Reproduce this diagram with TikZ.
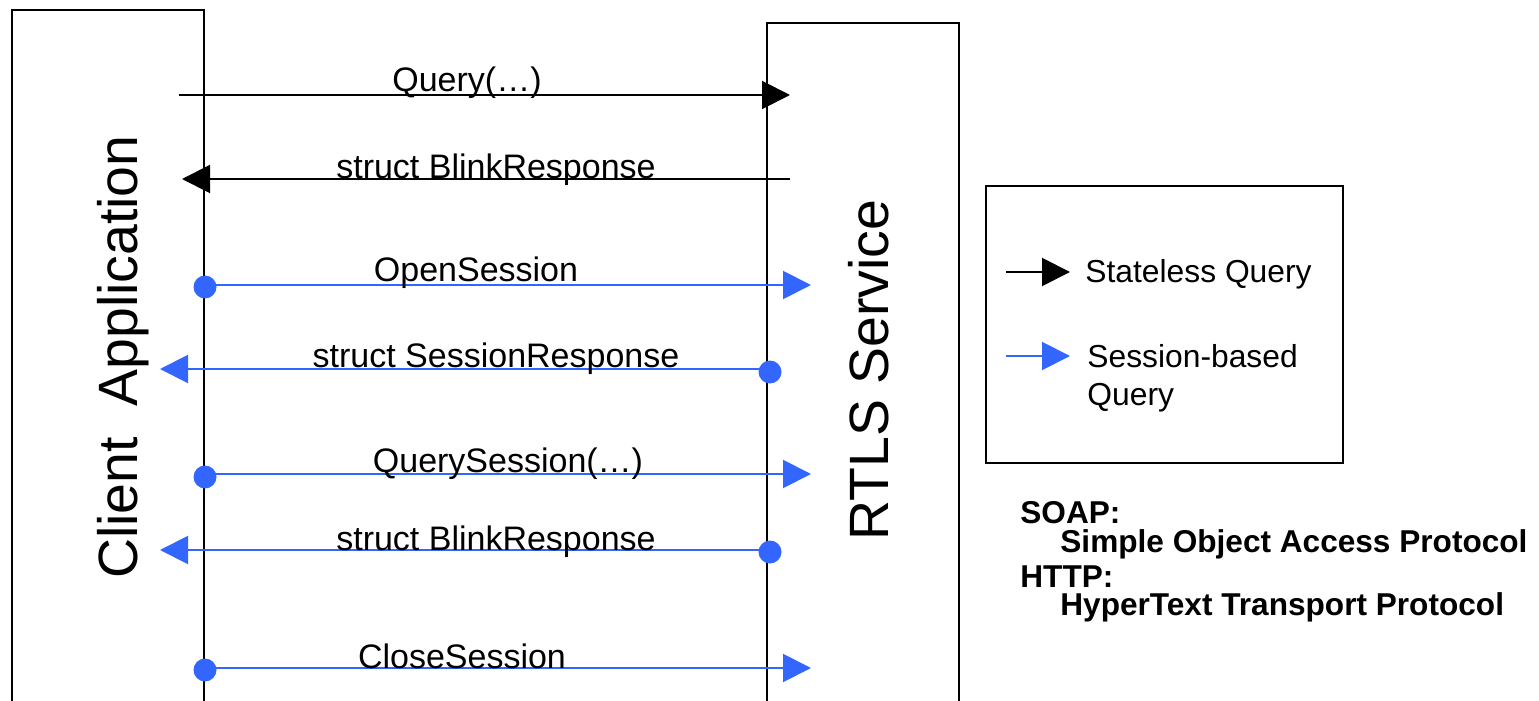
\documentclass[tikz,border=0pt]{standalone}
\usepackage{fontspec}
\setmainfont{Liberation Sans}
\usetikzlibrary{arrows.meta}
\definecolor{sblue}{HTML}{3366FF}
\tikzset{
  box/.style={line width=1pt},
  msg/.style={line width=1pt,-{Triangle[length=14pt,width=14pt]}},
  smsg/.style={msg,draw=sblue,fill=sblue},
  sdot/.style={circle,fill=sblue,inner sep=0pt,minimum size=11.5pt},
  lbl/.style={anchor=base,inner sep=0pt,font=\fontsize{17}{20}\selectfont},
  big/.style={anchor=base,rotate=90,inner sep=0pt,font=\fontsize{27.7}{32}\selectfont},
  leg/.style={anchor=base west,inner sep=0pt,font=\fontsize{15.9}{19}\selectfont},
  abbr/.style={anchor=base west,inner sep=0pt,font=\bfseries\fontsize{15.8}{19}\selectfont}
}
\begin{document}
\begin{tikzpicture}[x=0.5pt,y=-0.5pt]
\useasboundingbox (0,0) rectangle (1539,701);
% lifeline boxes
\draw[box] (12,720) -- (12,10) -- (204,10) -- (204,720);
\draw[box] (767,720) -- (767,23) -- (959,23) -- (959,720);
\node[big] (client) at (137,357) {Client\ \ Application};
\node[big] (rtls) at (888,370) {RTLS Service};

% stateless query
\coordinate (q1s) at (179,95);
\coordinate (q1e) at (790,95);
\draw[msg] (q1s) -- (q1e);
\node[lbl] (l1) at (467,92) {Query(…)};

\coordinate (r1s) at (790,179);
\coordinate (r1e) at (182,179);
\draw[msg] (r1s) -- (r1e);
\node[lbl] (l2) at (496,179) {struct BlinkResponse};

% session-based
\coordinate (o1e) at (811,285);
\draw[smsg] (205,285) coordinate (o1s) -- (o1e);
\node[sdot] (d1) at (205,287) {};
\node[lbl] (l3) at (476,282) {OpenSession};

\coordinate (s1e) at (160,369);
\draw[smsg] (770,369) coordinate (s1s) -- (s1e);
\node[sdot] (d2) at (770,372) {};
\node[lbl] (l4) at (496,367) {struct SessionResponse};

\coordinate (qs1e) at (811,474);
\draw[smsg] (205,474) coordinate (qs1s) -- (qs1e);
\node[sdot] (d3) at (205,477) {};
\node[lbl] (l5) at (508,472) {QuerySession(…)};

\coordinate (b2e) at (160,550);
\draw[smsg] (770,550) coordinate (b2s) -- (b2e);
\node[sdot] (d4) at (770,552) {};
\node[lbl] (l6) at (496,550) {struct BlinkResponse};

\coordinate (c1e) at (811,668);
\draw[smsg] (205,668) coordinate (c1s) -- (c1e);
\node[sdot] (d5) at (205,670) {};
\node[lbl] (l7) at (462,668) {CloseSession};

% legend
\draw[box] (986,186) rectangle (1343,463);
\coordinate (k1s) at (1006,272);
\coordinate (k1e) at (1070,272);
\draw[msg] (k1s) -- (k1e);
\node[leg] (k1t) at (1085,283) {Stateless Query};
\coordinate (k2s) at (1006,356);
\coordinate (k2e) at (1070,356);
\draw[smsg] (k2s) -- (k2e);
\node[leg] (k2t) at (1087,367) {Session-based};
\node[leg] (k2u) at (1087,405) {Query};

% abbreviations
\node[abbr] (a1) at (1020,523) {SOAP:};
\node[abbr] (a2) at (1060,552) {Simple Object Access Protocol};
\node[abbr] (a3) at (1020,587) {HTTP:};
\node[abbr] (a4) at (1060,615) {HyperText Transport Protocol};
\end{tikzpicture}
\end{document}
